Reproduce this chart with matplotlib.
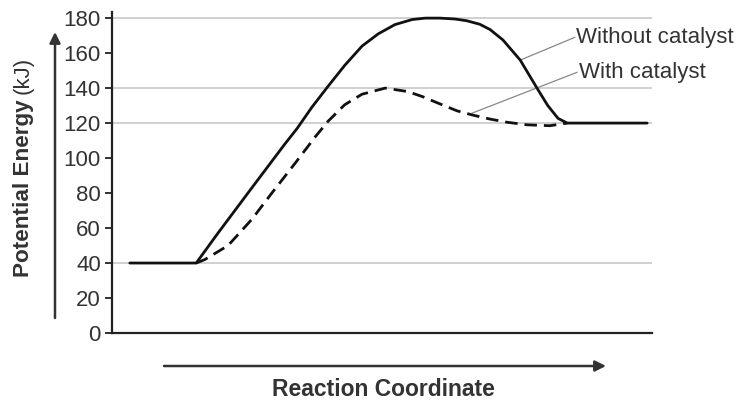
import matplotlib
matplotlib.use("Agg")
import matplotlib.pyplot as plt

plt.rcParams["font.family"] = ["Liberation Sans", "DejaVu Sans"]

TEXT = "#333333"

# reaction coordinate runs 0..100 across the axes
x_uncat = [3.3, 15.6, 19.6, 25.9, 32.0, 34.3, 37.0, 40.0, 43.1, 46.3, 49.3,
           52.4, 55.6, 58.0, 60.7, 63.5, 65.7, 68.1, 70.0, 72.4, 75.6,
           78.7, 80.7, 82.6, 84.3, 99.1]
e_uncat = [40, 40, 57, 83, 108, 117, 129, 141, 153, 164, 171,
           176.3, 179.2, 180, 180, 179.5, 178.5, 176.5, 173.5, 167.5, 156,
           140, 130, 122.7, 120, 120]

x_cat = [15.6, 17.2, 21.5, 25.9, 29.6, 33.9, 37.6, 40.0, 43.1, 46.3, 50.6,
         54.8, 57.6, 60.7, 63.9, 66.9, 70.0, 73.1, 76.9, 81.1, 84.3]
e_cat = [40, 42, 50, 65, 80, 97, 112, 121, 130.5, 136.5, 140,
         138, 135, 131, 127, 124.5, 122.3, 120.5, 119, 118.5, 120]

grid_levels = [40, 120, 140, 180]
y_ticks = list(range(0, 181, 20))

labels = ["Without catalyst", "With catalyst"]
# (curve point, text point) for each leader line
leader_from = [(75.6, 156), (66.7, 125.7)]
leader_to = [(85.7, 169), (86.1, 149)]

fig = plt.figure(figsize=(7.53, 4.03), dpi=100)
W, H = 753, 403
ax = fig.add_axes([112 / W, 1 - 333 / H, 540 / W, 321 / H])

for g in grid_levels:
    ax.axhline(g, color="#c8c8c8", lw=1.2, zorder=1)

ax.plot(x_uncat, e_uncat, color="#111111", lw=2.0, zorder=3,
        solid_joinstyle="round", solid_capstyle="round")
ax.plot(x_cat, e_cat, color="#111111", lw=2.0, zorder=3,
        dashes=(4.5, 2.5))

for lab, p0, p1 in zip(labels, leader_from, leader_to):
    ax.plot([p0[0], p1[0]], [p0[1], p1[1]], color="#888888", lw=0.9,
            zorder=2, clip_on=False)
    ax.text(p1[0] + 0.3, p1[1], lab, fontsize=16, color=TEXT,
            ha="left", va="center", clip_on=False)

ax.set_xlim(0, 100)
ax.set_ylim(0, 183.5)
ax.set_yticks(y_ticks)
ax.set_xticks([])
ax.tick_params(axis="y", length=5, width=1.3, pad=3, labelsize=16,
               colors="#222222", labelcolor=TEXT)
for s in ["top", "right"]:
    ax.spines[s].set_visible(False)
for s in ["left", "bottom"]:
    ax.spines[s].set_linewidth(1.6)
    ax.spines[s].set_color("#222222")

# axis arrows
fig_ax = fig.add_axes([0, 0, 1, 1], facecolor="none")
fig_ax.set_xlim(0, W)
fig_ax.set_ylim(H, 0)
fig_ax.axis("off")
arrow = dict(arrowstyle="-|>", color="#333333", lw=1.8, mutation_scale=16,
             shrinkA=0, shrinkB=0)
fig_ax.annotate("", xy=(55, 32), xytext=(55, 318), arrowprops=arrow)
fig_ax.annotate("", xy=(606, 366), xytext=(164, 366), arrowprops=arrow)

fig_ax.text(383.5, 390, "Reaction Coordinate", fontsize=16.5,
            fontweight="bold", color=TEXT, ha="center", va="center")
fig_ax.text(23, 277, "Potential Energy", fontsize=16.2, fontweight="bold",
            color=TEXT, rotation=90, rotation_mode="anchor",
            ha="left", va="center")
fig_ax.text(23, 94, "(kJ)", fontsize=16, color=TEXT, rotation=90,
            rotation_mode="anchor", ha="left", va="center")

fig.savefig("out.png", dpi=100)
